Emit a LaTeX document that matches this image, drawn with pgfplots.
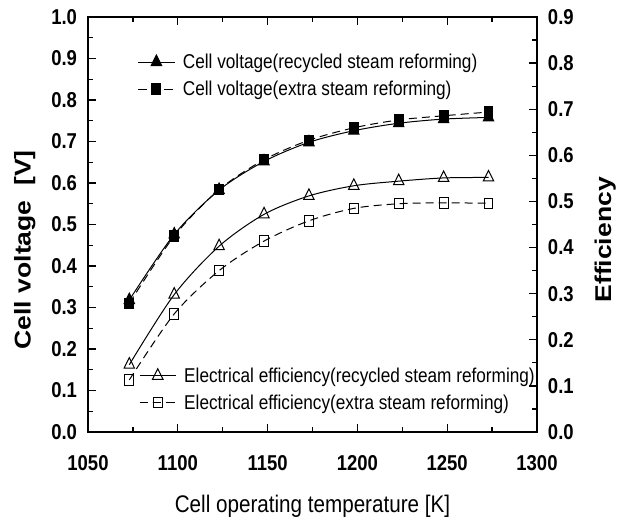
\documentclass[border=0pt]{standalone}
\usepackage{pgfplots}
\pgfplotsset{compat=1.18}
\usepackage{fontspec}
\setmainfont[FakeStretch=0.86]{Liberation Sans}
\newfontfamily\widefont[FakeStretch=1.163]{Liberation Sans}
\begin{document}
\begin{tikzpicture}
\pgfplotsset{
  every axis/.append style={
    scale only axis, width=449pt, height=415pt,
    line width=1.3pt,
    tick style={line width=1.3pt, black},
    major tick length=8pt, minor tick length=5pt,
    tick align=inside,
    /pgf/number format/assume math mode=true,
    /pgf/number format/fixed, /pgf/number format/fixed zerofill,
    /pgf/number format/precision=1,
    tick label style={font=\bfseries\fontsize{21.5}{21.5}\selectfont},
    legend cell align=left,
    legend image code/.code={\draw[mark repeat=2,mark phase=2] plot coordinates {(0pt,0pt) (18pt,0pt) (36pt,0pt)};},
  },
}
\begin{axis}[
  name=main,
  xmin=1050, xmax=1300, ymin=0, ymax=1.0,
  xtick={1050,1100,...,1300}, minor xtick={1075,1125,...,1275},
  ytick={0,0.1,...,1.0}, minor ytick={0.05,0.15,...,0.95},
  xtick pos=both, ytick pos=left,
  xticklabel style={/pgf/number format/precision=0, /pgf/number format/fixed zerofill=false, /pgf/number format/1000 sep={}, yshift=-19pt},
  yticklabel style={xshift=-7pt},
  xlabel={Cell operating temperature [K]},
  ylabel={Cell voltage~~[V]},
  xlabel style={font=\fontsize{24}{24}\selectfont, at={(axis description cs:0.5,-0.18)}, anchor=center},
  ylabel style={font=\widefont\bfseries\fontsize{22.8}{22.8}\selectfont, at={(axis description cs:-0.141,0.439)}, anchor=center},
  legend style={draw=none, fill=none, at={(0.103,0.922)}, anchor=north west,
    font=\fontsize{20}{22}\selectfont, row sep=7pt, column sep=6pt},
]
\addplot[black, line width=1pt, smooth, mark=triangle*, mark size=7pt, mark options={solid, xscale=0.86}]
  coordinates {(1073,0.318) (1098,0.476) (1123,0.583) (1148,0.652) (1173,0.698) (1198,0.726) (1223,0.744) (1248,0.754) (1273,0.758)};
\addlegendentry{Cell voltage(recycled steam reforming)}
\addplot[black, line width=1pt, smooth, dash pattern=on 8pt off 5pt, mark=square*, mark size=5.2pt, mark options={solid, xscale=0.86}]
  coordinates {(1073,0.310) (1098,0.472) (1123,0.584) (1148,0.656) (1173,0.703) (1198,0.733) (1223,0.752) (1248,0.762) (1273,0.771)};
\addlegendentry{Cell voltage(extra steam reforming)}
\end{axis}
\begin{axis}[
  xmin=1050, xmax=1300, ymin=0, ymax=0.9,
  axis x line=none, axis y line*=right,
  ytick={0,0.1,...,0.9}, minor ytick={0.05,0.15,...,0.85},
  yticklabel style={xshift=7pt},
  ylabel={Efficiency},
  ylabel style={font=\widefont\bfseries\fontsize{22.8}{22.8}\selectfont, at={(axis description cs:1.152,0.463)}, anchor=center},
  legend style={draw=none, fill=none, at={(0.106,0.04)}, anchor=south west,
    font=\fontsize{20}{22}\selectfont, row sep=7pt, column sep=6pt},
]
\addplot[black, line width=1pt, smooth, mark=triangle, mark size=7pt, mark options={solid, fill=white, xscale=0.86}]
  coordinates {(1073,0.146) (1098,0.298) (1123,0.403) (1148,0.472) (1173,0.512) (1198,0.534) (1223,0.544) (1248,0.551) (1273,0.552)};
\addlegendentry{Electrical efficiency(recycled steam reforming)}
\addplot[black, line width=1pt, smooth, dash pattern=on 8pt off 5pt, mark=square, mark size=5.2pt, mark options={solid, fill=white, xscale=0.86}]
  coordinates {(1073,0.113) (1098,0.256) (1123,0.350) (1148,0.414) (1173,0.458) (1198,0.485) (1223,0.495) (1248,0.497) (1273,0.496)};
\addlegendentry{Electrical efficiency(extra steam reforming)}
\end{axis}
\pgfresetboundingbox
\path ([xshift=-88pt,yshift=-91pt]main.south west) rectangle ([xshift=84pt,yshift=17pt]main.north east);
\end{tikzpicture}
\end{document}
